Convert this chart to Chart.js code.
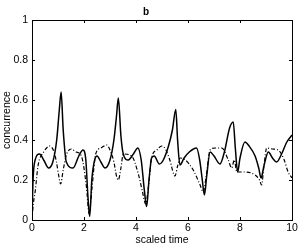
<!DOCTYPE html>
<html>
<head>
<meta charset="utf-8">
<script src="https://cdn.jsdelivr.net/npm/chart.js@4/dist/chart.umd.min.js"></script>
<style>
  html, body { margin: 0; padding: 0; background: #fff; }
  #wrap { width: 300px; height: 245px; }
</style>
</head>
<body>
<div id="wrap"><canvas id="c" width="300" height="245"></canvas></div>
<script>
// solid curve (time, concurrence)
const solidT = [0, 0.04, 0.12, 0.29, 0.45, 0.64, 0.8, 0.95, 1.05, 1.12, 1.2, 1.32, 1.58, 1.8, 1.96, 2.07, 2.15, 2.22, 2.3, 2.41, 2.5, 2.65, 2.81, 3.0, 3.15, 3.25, 3.32, 3.42, 3.51, 3.7, 3.9, 4.07, 4.2, 4.32, 4.41, 4.5, 4.6, 4.7, 4.9, 5.05, 5.25, 5.4, 5.53, 5.6, 5.69, 5.85, 6.05, 6.33, 6.45, 6.55, 6.63, 6.72, 6.85, 7.0, 7.23, 7.4, 7.6, 7.74, 7.82, 7.91, 8.0, 8.19, 8.35, 8.58, 8.72, 8.81, 8.92, 9.09, 9.25, 9.41, 9.6, 9.8, 10]
const solidY = [0, 0.2, 0.3, 0.33, 0.3, 0.26, 0.29, 0.4, 0.55, 0.64, 0.45, 0.29, 0.26, 0.32, 0.35, 0.3, 0.12, 0.017, 0.2, 0.3, 0.32, 0.29, 0.26, 0.3, 0.4, 0.52, 0.61, 0.42, 0.33, 0.3, 0.33, 0.36, 0.3, 0.15, 0.067, 0.2, 0.31, 0.32, 0.28, 0.3, 0.37, 0.45, 0.553, 0.4, 0.275, 0.31, 0.34, 0.36, 0.3, 0.2, 0.125, 0.22, 0.34, 0.32, 0.28, 0.34, 0.46, 0.49, 0.36, 0.24, 0.31, 0.39, 0.37, 0.32, 0.26, 0.21, 0.27, 0.34, 0.31, 0.29, 0.33, 0.39, 0.425]

// dash-dot curve
const dashT = [0, 0.05, 0.13, 0.23, 0.45, 0.68, 0.85, 0.94, 1.03, 1.1, 1.2, 1.32, 1.51, 1.7, 1.9, 2.09, 2.2, 2.3, 2.45, 2.65, 2.87, 3.0, 3.15, 3.25, 3.32, 3.42, 3.51, 3.83, 4.09, 4.25, 4.37, 4.48, 4.6, 4.8, 4.99, 5.15, 5.3, 5.5, 5.6, 5.69, 5.9, 6.2, 6.45, 6.59, 6.7, 6.85, 7.05, 7.3, 7.55, 7.68, 7.78, 7.88, 8.19, 8.58, 8.75, 8.83, 8.92, 9.03, 9.25, 9.47, 9.7, 9.85, 10]
const dashY = [0, 0.08, 0.15, 0.27, 0.34, 0.37, 0.34, 0.29, 0.22, 0.18, 0.25, 0.325, 0.355, 0.34, 0.32, 0.17, 0.03, 0.15, 0.33, 0.36, 0.375, 0.35, 0.29, 0.22, 0.2, 0.26, 0.33, 0.32, 0.23, 0.14, 0.08, 0.17, 0.31, 0.35, 0.37, 0.35, 0.3, 0.22, 0.27, 0.31, 0.3, 0.25, 0.18, 0.14, 0.22, 0.35, 0.36, 0.36, 0.3, 0.26, 0.3, 0.24, 0.24, 0.225, 0.2, 0.175, 0.27, 0.36, 0.355, 0.35, 0.3, 0.24, 0.21]

const xTicks = [0, 2, 4, 6, 8, 10]
const yTicks = [0, 0.2, 0.4, 0.6, 0.8, 1]

const FONT = 'Liberation Sans, Arial, Helvetica, sans-serif'

function pts (ts, ys) {
  return ts.map((t, i) => ({ x: t, y: ys[i] }))
}

// matlab style box with inward ticks on all four sides
const boxTicks = {
  id: 'boxTicks',
  afterDatasetsDraw (chart) {
    const ctx = chart.ctx
    const a = chart.chartArea
    const xs = chart.scales.x
    const ys = chart.scales.y
    const len = 3
    ctx.save()
    ctx.strokeStyle = '#000'
    ctx.lineWidth = 1
    ctx.beginPath()
    xTicks.forEach(v => {
      const px = Math.round(xs.getPixelForValue(v)) + 0.5
      ctx.moveTo(px, a.bottom); ctx.lineTo(px, a.bottom - len)
      ctx.moveTo(px, a.top); ctx.lineTo(px, a.top + len)
    })
    yTicks.forEach(v => {
      const py = Math.round(ys.getPixelForValue(v)) + 0.5
      ctx.moveTo(a.left, py); ctx.lineTo(a.left + len, py)
      ctx.moveTo(a.right, py); ctx.lineTo(a.right - len, py)
    })
    ctx.stroke()
    ctx.strokeRect(Math.round(a.left) + 0.5, Math.round(a.top) + 0.5, Math.round(a.right - a.left), Math.round(a.bottom - a.top))
    ctx.restore()
  }
}

new Chart(document.getElementById('c'), {
  type: 'line',
  data: {
    datasets: [{
      data: pts(solidT, solidY),
      borderColor: '#000',
      borderWidth: 1.5,
      pointRadius: 0,
      cubicInterpolationMode: 'monotone'
    }, {
      data: pts(dashT, dashY),
      borderColor: '#000',
      borderWidth: 1.2,
      borderDash: [4, 2, 1, 2],
      pointRadius: 0,
      cubicInterpolationMode: 'monotone'
    }]
  },
  options: {
    responsive: false,
    animation: false,
    layout: { padding: { right: 8 } },
    plugins: {
      legend: { display: false },
      tooltip: { enabled: false },
      title: {
        display: true,
        text: 'b',
        color: '#000',
        font: { family: FONT, size: 10, weight: 'bold', lineHeight: 1.2 },
        padding: { top: 6, bottom: 2 }
      }
    },
    scales: {
      x: {
        type: 'linear',
        min: 0,
        max: 10,
        afterBuildTicks: s => { s.ticks = xTicks.map(v => ({ value: v })) },
        afterFit: s => { s.height = 25 },
        grid: { display: false, drawTicks: false, tickLength: 0 },
        border: { display: false },
        ticks: { color: '#000', padding: 2, font: { family: FONT, size: 10.5 }, maxRotation: 0 },
        title: { display: true, text: 'scaled time', color: '#000', padding: 0, font: { family: FONT, size: 10.5, lineHeight: 1 } }
      },
      y: {
        type: 'linear',
        min: 0,
        max: 1,
        afterBuildTicks: s => { s.ticks = yTicks.map(v => ({ value: v })) },
        afterFit: s => { s.width = 32 },
        grid: { display: false, drawTicks: false, tickLength: 0 },
        border: { display: false },
        ticks: { color: '#000', padding: 4, font: { family: FONT, size: 10.5 }, callback: v => String(v) },
        title: { display: true, text: 'concurrence', color: '#000', padding: { top: 2, bottom: 0 }, font: { family: FONT, size: 10.5, lineHeight: 1 } }
      }
    }
  },
  plugins: [boxTicks]
})
</script>
</body>
</html>
